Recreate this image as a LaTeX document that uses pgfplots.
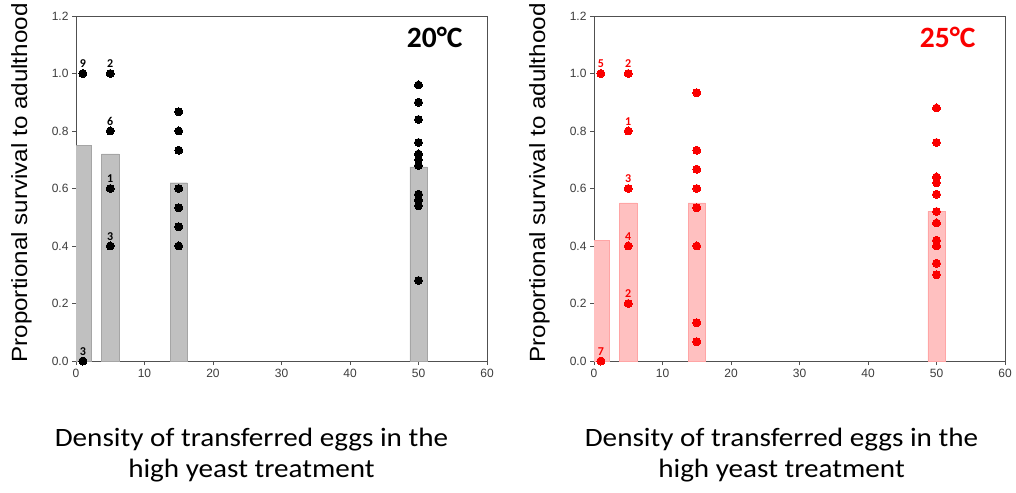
\documentclass[border=0pt]{standalone}
\usepackage{fontspec}
\usepackage{pgfplots}
\usepackage{pgfplotstable}
\pgfplotsset{compat=1.18}
\setmainfont{Liberation Sans}
\newfontfamily\calibri{Carlito}
\newfontfamily\calibriwide[FakeStretch=1.1]{Carlito}
\newfontfamily\arial{Liberation Sans}
\newfontfamily\arialwide[FakeStretch=1.1]{Liberation Sans}

\definecolor{axgray}{RGB}{80,80,80}
\definecolor{tickgray}{RGB}{60,60,60}
\definecolor{barfillA}{RGB}{192,192,192}
\definecolor{bardrawA}{RGB}{165,165,165}
\definecolor{barfillB}{RGB}{255,192,192}
\definecolor{bardrawB}{RGB}{255,165,165}
\definecolor{dotred}{RGB}{250,0,0}

% 20 C panel
\pgfplotstableread{
x y
1 0.75
5 0.72
15 0.62
50 0.675
}\barsA
\pgfplotstableread{
x y
15 0.867
15 0.8
15 0.733
15 0.6
15 0.533
15 0.467
15 0.4
50 0.96
50 0.9
50 0.84
50 0.76
50 0.72
50 0.70
50 0.68
50 0.58
50 0.56
50 0.54
50 0.28
}\dotsA
\pgfplotstableread{
x y l
1 1.0 9
1 0.0 3
5 1.0 2
5 0.8 6
5 0.6 1
5 0.4 3
}\labA

% 25 C panel
\pgfplotstableread{
x y
1 0.42
5 0.55
15 0.55
50 0.52
}\barsB
\pgfplotstableread{
x y
15 0.933
15 0.733
15 0.667
15 0.6
15 0.533
15 0.4
15 0.133
15 0.067
50 0.88
50 0.76
50 0.64
50 0.62
50 0.58
50 0.52
50 0.48
50 0.42
50 0.40
50 0.34
50 0.30
}\dotsB
\pgfplotstableread{
x y l
1 1.0 5
1 0.0 7
5 1.0 2
5 0.8 1
5 0.6 3
5 0.4 4
5 0.2 2
}\labB

\pgfplotsset{
  panel/.style={
    scale only axis, width=411pt, height=345pt,
    xmin=0, xmax=60, ymin=0, ymax=1.2,
    xtick={0,10,...,60}, ytick={0,0.2,...,1.2},
    yticklabel style={/pgf/number format/fixed, /pgf/number format/fixed zerofill,
      /pgf/number format/precision=1},
    /pgf/number format/assume math mode=true,
    tick label style={font=\arial\fontsize{12}{14}\selectfont, text=tickgray},
    tick pos=left, tick align=outside, major tick length=4pt,
    axis line style={axgray, line width=0.9pt},
    every tick/.style={axgray, line width=0.9pt},
    xticklabel style={yshift=-1pt},
    ylabel={Proportional survival to adulthood},
    every axis y label/.style={at={(axis description cs:-0.1326,0.516)}, rotate=90,
      anchor=center, font=\arialwide\fontsize{22}{26}\selectfont},
    xlabel={Density of transferred eggs in the\\high yeast treatment},
    every axis x label/.style={at={(axis description cs:0.5,0)}, anchor=base,
      yshift=-116pt, align=center, inner sep=0pt,
      font=\calibriwide\fontsize{26.5}{30.5}\selectfont},
  },
  dots/.style={only marks, mark=*, mark size=4pt,
    mark options={solid, fill=#1, draw=#1, line width=0pt}},
  labdots/.style={dots=#1, nodes near coords, point meta=explicit symbolic,
    every node near coord/.append style={anchor=south, inner sep=0pt, yshift=5.5pt,
      text=#1, font=\calibri\bfseries\fontsize{12}{12}\selectfont}},
}

\begin{document}
\begin{tikzpicture}
\useasboundingbox (0,0) rectangle (1016pt,492pt);

\begin{axis}[panel, at={(76pt,131pt)}, anchor=south west,
  every axis x label/.append style={xshift=-30pt}]
\addplot[ybar, bar width=2.5, bar shift=0pt, fill=barfillA, draw=bardrawA] table {\barsA};
\addplot[dots=black] table {\dotsA};
\addplot[labdots=black] table[meta=l] {\labA};
\node[anchor=base east, xshift=-21pt, yshift=-32pt,
  font=\calibri\bfseries\fontsize{29.5}{31}\selectfont] at (rel axis cs:1,1) {20°C};
\end{axis}

\begin{axis}[panel, at={(594pt,131pt)}, anchor=south west,
  every axis x label/.append style={xshift=-18pt}]
\addplot[ybar, bar width=2.5, bar shift=0pt, fill=barfillB, draw=bardrawB] table {\barsB};
\addplot[dots=dotred] table {\dotsB};
\addplot[labdots=dotred] table[meta=l] {\labB};
\node[anchor=base east, xshift=-26pt, yshift=-32pt, text=dotred,
  font=\calibri\bfseries\fontsize{29.5}{31}\selectfont] at (rel axis cs:1,1) {25°C};
\end{axis}
\end{tikzpicture}
\end{document}
